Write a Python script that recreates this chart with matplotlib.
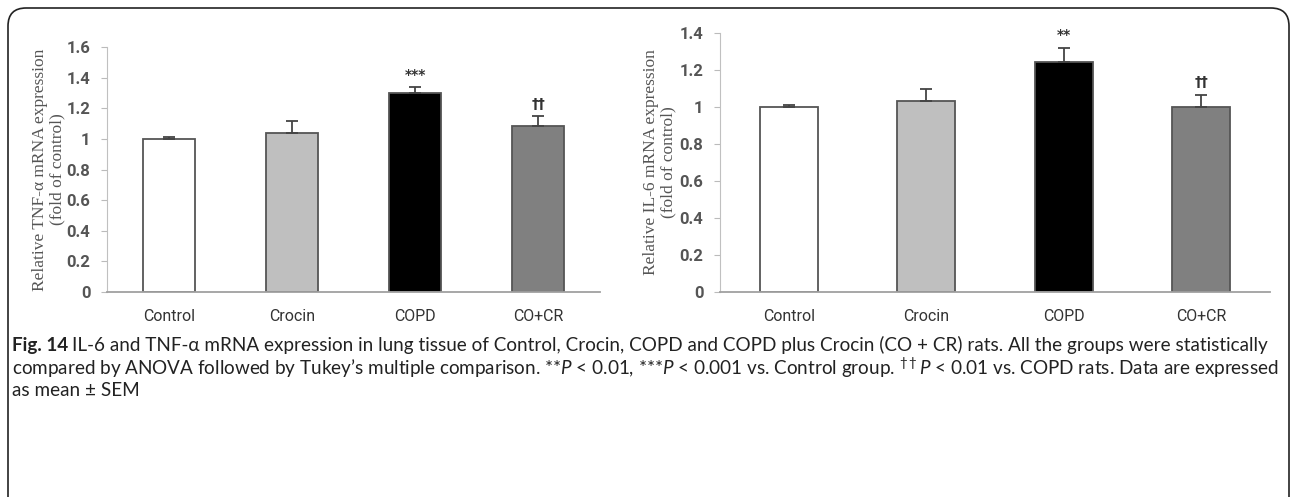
import matplotlib
matplotlib.use('Agg')
import matplotlib.pyplot as plt
from matplotlib.patches import FancyBboxPatch
import numpy as np

groups = ['Control', 'Crocin', 'COPD', 'CO+CR']
bar_colors = ['#ffffff', '#bfbfbf', '#000000', '#808080']

tnf_mean = [1.00, 1.04, 1.30, 1.085]
tnf_sem = [0.01, 0.08, 0.04, 0.065]
tnf_marks = ['', '', '***', '††']

il6_mean = [1.00, 1.03, 1.245, 1.00]
il6_sem = [0.01, 0.07, 0.075, 0.065]
il6_marks = ['', '', '**', '††']

cap_line1 = ('IL-6 and TNF-α mRNA expression in lung tissue of Control, Crocin, COPD and COPD plus '
             'Crocin (CO + CR) rats. All the groups were statistically')
cap_line2 = ("compared by ANOVA followed by Tukey’s multiple comparison. **$P$ < 0.01, ***$P$ < 0.001 "
             "vs. Control group. $^{\\dagger\\dagger}P$ < 0.01 vs. COPD rats. Data are expressed")
cap_line3 = 'as mean ± SEM'

cap_font = ['Lato', 'DejaVu Sans']
plt.rcParams['mathtext.fontset'] = 'custom'
plt.rcParams['mathtext.rm'] = 'Lato'
plt.rcParams['mathtext.it'] = 'Lato:italic'
plt.rcParams['mathtext.bf'] = 'Lato:bold'

tick_grey = '#555555'
W, H = 1293, 497


def draw_panel(ax, means, sems, marks, ymax, ylabel, label_x):
    x = np.arange(len(groups))
    ax.bar(x, means, width=0.42, color=bar_colors, edgecolor='#555555', linewidth=1.3, zorder=2)
    ax.errorbar(x, means, yerr=[np.zeros(len(sems)), sems], fmt='none',
                ecolor='#444444', elinewidth=1.3, capsize=4, capthick=1.3, zorder=3)
    for xi, m, s, t in zip(x, means, sems, marks):
        if t:
            ax.text(xi, m + s + 0.03, t, ha='center', va='bottom', fontsize=10,
                    color='#333333', family=['DejaVu Sans'], weight='bold')
    ticks = np.arange(0, ymax + 0.01, 0.2)
    ax.set_xlim(-0.5, 3.5)
    ax.set_ylim(0, ymax)
    ax.set_yticks(ticks)
    ax.set_yticklabels(['0' if v < 1e-9 else ('1' if abs(v - 1) < 1e-9 else f'{v:.1f}') for v in ticks])
    ax.set_xticks(x)
    ax.set_xticklabels(groups, family=['Roboto', 'DejaVu Sans'], fontsize=11.5, color='#333333')
    ax.tick_params(axis='x', length=0, pad=12)
    ax.tick_params(axis='y', length=4, color='#bbbbbb', labelsize=12, labelcolor=tick_grey, pad=8)
    for lab in ax.get_yticklabels():
        lab.set_fontweight('bold')
        lab.set_family(['Roboto', 'DejaVu Sans'])
    ax.spines['top'].set_visible(False)
    ax.spines['right'].set_visible(False)
    ax.spines['left'].set_color('#c0c0c0')
    ax.spines['bottom'].set_color('#a0a0a0')
    ax.spines['bottom'].set_linewidth(1.3)
    ax.set_ylabel(ylabel, family=['Liberation Serif'], fontsize=12.5, color='#555555',
                  linespacing=1.05)
    ax.yaxis.set_label_coords(label_x, 0.5)


fig = plt.figure(figsize=(W / 100, H / 100), dpi=100)

ax1 = fig.add_axes([107 / W, 1 - 292 / H, 493 / W, 245 / H])
draw_panel(ax1, tnf_mean, tnf_sem, tnf_marks, 1.6,
           'Relative TNF-α mRNA expression\n(fold of control)', -0.085)

ax2 = fig.add_axes([720 / W, 1 - 292 / H, 550 / W, 259 / H])
draw_panel(ax2, il6_mean, il6_sem, il6_marks, 1.4,
           'Relative IL-6 mRNA expression\n(fold of control)', -0.08)

# rounded frame around the figure panel
frame = FancyBboxPatch((8 / W, -0.2), 1281 / W, 1.2 - 8 / H,
                       boxstyle='round,pad=0,rounding_size=0.014', transform=fig.transFigure,
                       fill=False, edgecolor='#222222', linewidth=1.2, mutation_aspect=2.6)
fig.patches.append(frame)

# caption: fit the first two lines to the widths used in the reference
fs = 12
cap_kw = dict(family=cap_font, color='#222222', va='center', ha='left')
head = fig.text(12 / W, 1 - 345 / H, 'Fig. 14', weight='bold', fontsize=fs, **cap_kw)
rest = fig.text(0, 1 - 345 / H, cap_line1, fontsize=fs, **cap_kw)
l2 = fig.text(12 / W, 1 - 368 / H, cap_line2, fontsize=fs, **cap_kw)
l3 = fig.text(12 / W, 1 - 391 / H, cap_line3, fontsize=fs, **cap_kw)
fig.canvas.draw()
r = fig.canvas.get_renderer()
w1 = head.get_window_extent(r).width + 4 + rest.get_window_extent(r).width
w2 = l2.get_window_extent(r).width
fs = fs * min(1270 / w1, 1262 / w2)
for t in (head, rest, l2, l3):
    t.set_fontsize(fs)
fig.canvas.draw()
rest.set_x((head.get_window_extent(r).x1 + 4) / W)

fig.savefig('out.png', dpi=100)
